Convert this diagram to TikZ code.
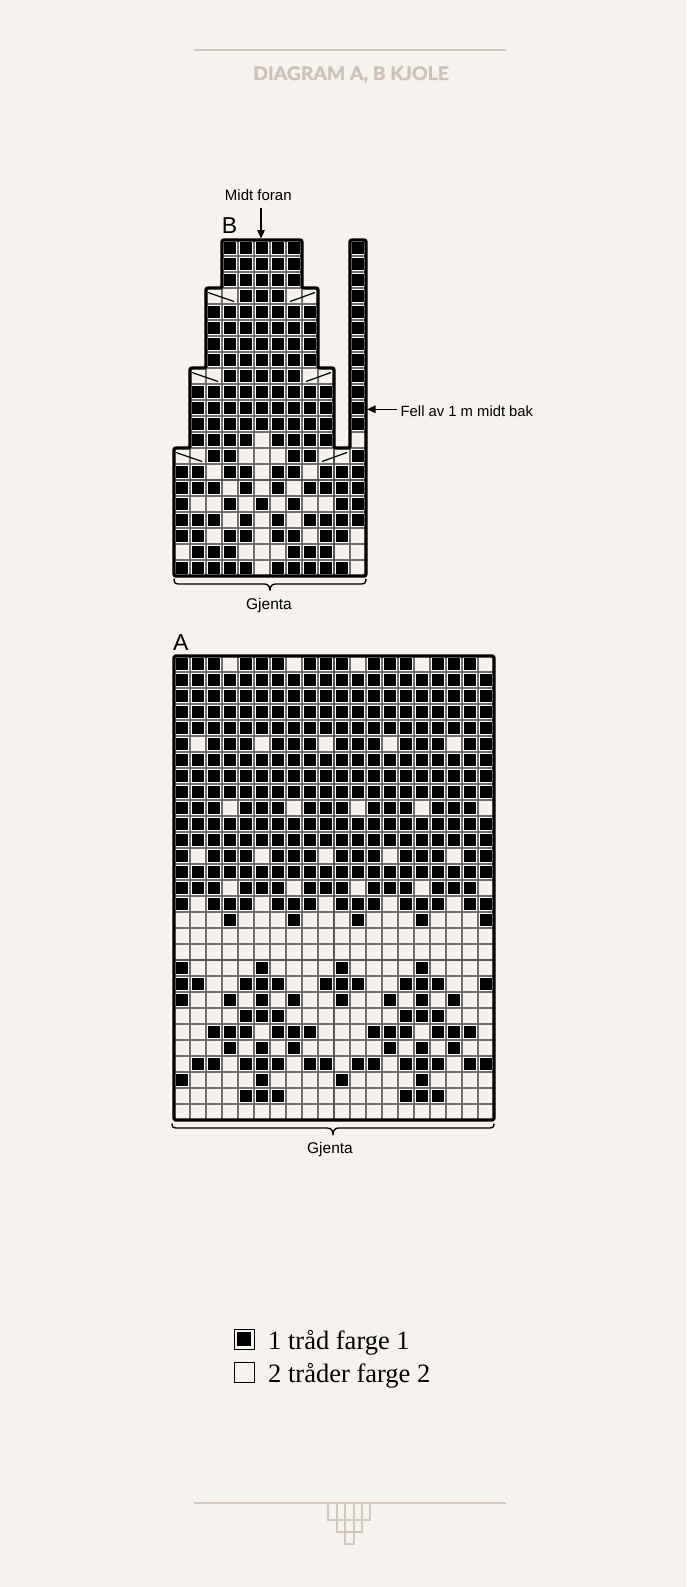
\documentclass[tikz,border=0pt]{standalone}
\usepackage{fontspec}
\setmainfont{Liberation Serif}
\newfontfamily\lsans{Liberation Sans}
\newfontfamily\hdrfont{Lato}[BoldFeatures={FakeBold=2}]
\usetikzlibrary{arrows.meta}
\definecolor{bg}{HTML}{F6F2EE}
\definecolor{taupe}{HTML}{D3C7BD}
\definecolor{htext}{HTML}{CEC2B8}
\definecolor{gridc}{HTML}{707070}
\definecolor{divc}{HTML}{555555}
\def\kcell#1#2{\fill[white] ({#1+1},{#2+1}) rectangle ++(14,14);\fill[black] ({#1+2.3},{#2+2.3}) rectangle ++(11.4,11.4);}
\begin{document}
\begin{tikzpicture}[x=1pt,y=-1pt,
  gl/.style={draw=gridc,line width=1.1pt},
  divl/.style={draw=divc,line width=1.7pt},
  outl/.style={draw=black,line width=3.2pt,line join=round,rounded corners=1.5pt},
  diagl/.style={draw=black,line width=1.2pt},
  arr/.style={draw=black,line width=1.3pt,-{Triangle[length=8.5pt,width=7.5pt]}},
  lbl/.style={font=\lsans\fontsize{15}{18}\selectfont,inner sep=0pt},
  bigl/.style={font=\lsans\fontsize{23}{26}\selectfont,inner sep=0pt},
  legt/.style={font=\fontsize{26.5}{30}\selectfont,inner sep=0pt,anchor=base west},
  brace/.style={draw=black,line width=1.3pt,line join=round},
  orn/.style={draw=taupe,line width=2pt}]
\useasboundingbox (0,0) rectangle (686,1587);
\fill[bg] (0,0) rectangle (686,1587);
% header
\draw[taupe,line width=2.3pt] (194,50.3) -- (506,50.3);
\node[anchor=base,inner sep=0pt,text=htext,font=\hdrfont\bfseries\fontsize{18.5}{20}\selectfont,xscale=1.05] (hdr) at (351,80) {DIAGRAM A, B KJOLE};
% ================= Diagram B =================
\foreach \r/\a/\b in {1/4/8,2/4/8,3/4/8,4/3/9,5/3/9,6/3/9,7/3/9,8/3/9,9/2/10,10/2/10,11/2/10,12/2/10,13/2/10,14/1/12,15/1/12,16/1/12,17/1/12,18/1/12,19/1/12,20/1/12,21/1/12}
 { \foreach \c in {\a,...,\b} { \draw[gl] ({174+16*(\c-1)},{240+16*(\r-1)}) rectangle ++(16,16); } }
\foreach \r in {1,...,13} { \draw[gl] (350,{240+16*(\r-1)}) rectangle ++(16,16); }
\foreach \r/\cl in {1/{4,5,6,7,8,12},2/{4,5,6,7,8,12},3/{4,5,6,7,8,12},4/{5,6,7,12},
 5/{3,4,5,6,7,8,9,12},6/{3,4,5,6,7,8,9,12},7/{3,4,5,6,7,8,9,12},8/{3,4,5,6,7,8,9,12},
 9/{4,5,6,7,8,12},10/{2,3,4,5,6,7,8,9,10,12},11/{2,3,4,5,6,7,8,9,10,12},12/{2,3,4,5,6,7,8,9,10,12},
 13/{2,3,4,5,7,8,9,10},14/{3,4,8,9,12},15/{1,2,4,5,7,8,10,11,12},16/{1,2,3,5,7,9,10,11,12},
 17/{1,4,6,8,11,12},18/{1,2,3,5,7,9,10,11,12},19/{1,2,4,5,7,8,10,11},20/{2,3,4,8,9,10},
 21/{1,2,3,4,5,7,8,9,10,11}}
 { \foreach \c in \cl { \kcell{174+16*(\c-1)}{240+16*(\r-1)} } }
\draw[divl] (334,448) -- (334,576);
\draw[divl] (174,480) -- (366,480);
% decrease marks
\draw[diagl] (208,292.5) -- (234,301.5);
\draw[diagl] (290,301.5) -- (315,292.5);
\draw[diagl] (192,372.5) -- (218,381.5);
\draw[diagl] (306,381.5) -- (331,372.5);
\draw[diagl] (176,452.5) -- (202,461.5);
\draw[diagl] (322,461.5) -- (347,452.5);
\draw[outl] (222,240) -- (302,240) -- (302,288) -- (318,288) -- (318,368) -- (334,368) -- (334,448) -- (350,448) -- (350,240) -- (366,240) -- (366,576) -- (174,576) -- (174,448) -- (190,448) -- (190,368) -- (206,368) -- (206,288) -- (222,288) -- cycle;
\node[bigl,anchor=base west] (labB) at (221.6,233.3) {B};
\node[lbl,anchor=base] (midt) at (258.3,200) {Midt foran};
\coordinate (midtS) at (261,208.3);
\coordinate (midtT) at (261,238.5);
\draw[arr] (midtS) -- (midtT);
\node[lbl,anchor=base west,font=\lsans\fontsize{14.8}{18}\selectfont] (fell) at (400.5,416.7) {Fell av 1 m midt bak};
\coordinate (fellS) at (397.3,409.3);
\coordinate (fellT) at (367,409.3);
\draw[arr] (fellS) -- (fellT);
\draw[brace] (174,578.5) .. controls (174,582.5) and (175,584) .. (179,584) -- (264,584) .. controls (268,584) and (270,586) .. (270,590.5) .. controls (270,586) and (272,584) .. (276,584) -- (361,584) .. controls (365,584) and (366,582.5) .. (366,578.5);
\node[lbl,anchor=base,font=\lsans\fontsize{15.5}{18}\selectfont] (gjB) at (269,609.5) {Gjenta};
% ================= Diagram A =================
\foreach \i in {0,...,20} { \draw[gl] ({174+16*\i},656) -- ({174+16*\i},1120); }
\foreach \i in {0,...,29} { \draw[gl] (174,{656+16*\i}) -- (494,{656+16*\i}); }
\foreach \r/\cl in {
 1/{1,2,3,5,6,7,9,10,11,13,14,15,17,18,19},
 2/{1,...,20},3/{1,...,20},4/{1,...,20},5/{1,...,20},
 6/{1,3,4,5,7,8,9,11,12,13,15,16,17,19,20},
 7/{1,...,20},8/{1,...,20},9/{1,...,20},
 10/{1,2,3,5,6,7,9,10,11,13,14,15,17,18,19},
 11/{1,...,20},12/{1,...,20},
 13/{1,3,4,5,7,8,9,11,12,13,15,16,17,19,20},
 14/{1,...,20},
 15/{1,2,3,5,6,7,9,10,11,13,14,15,17,18,19},
 16/{1,3,4,5,7,8,9,11,12,13,15,16,17,19,20},
 17/{4,8,12,16,20},
 20/{1,6,11,16},
 21/{1,2,5,6,7,10,11,12,15,16,17,20},
 22/{1,4,6,8,11,14,16,18},
 23/{5,6,7,15,16,17},
 24/{3,4,5,7,8,9,13,14,15,17,18,19},
 25/{4,6,8,14,16,18},
 26/{2,3,5,6,7,9,10,12,13,15,16,17,19,20},
 27/{1,6,11,16},
 28/{5,6,7,15,16,17}}
 { \foreach \c in \cl { \kcell{174+16*(\c-1)}{656+16*(\r-1)} } }
\draw[divl] (334,656) -- (334,1120);
\draw[divl] (174,960) -- (494,960);
\draw[outl] (174,656) rectangle (494,1120);
\node[bigl,anchor=base west] (labA) at (173,650) {A};
\draw[brace] (172,1123.5) .. controls (172,1127) and (173,1128) .. (177,1128) -- (327,1128) .. controls (331,1128) and (333,1130) .. (333,1135) .. controls (333,1130) and (335,1128) .. (339,1128) -- (489,1128) .. controls (493,1128) and (494,1127) .. (494,1123.5);
\node[lbl,anchor=base,font=\lsans\fontsize{15.5}{18}\selectfont] (gjA) at (330,1153.7) {Gjenta};
% ================= Legend =================
\draw[line width=1pt] (234,1329) rectangle (254,1349);
\fill[black] (237.4,1332.4) rectangle (250.6,1345.6);
\node[legt] (leg1) at (268,1349.3) {1 tråd farge 1};
\draw[line width=0.9pt] (234,1362.5) rectangle (254,1382.5);
\node[legt] (leg2) at (268,1382.5) {2 tråder farge 2};
% ================= Footer =================
\draw[taupe,line width=2.3pt] (194,1503.3) -- (506,1503.3);
\draw[orn] (328.3,1503.3) rectangle (370.3,1519.7);
\foreach \xx in {336.7,345.1,353.5,361.9} { \draw[orn] (\xx,1503.3) -- (\xx,1519.7); }
\draw[orn] (336.7,1519.7) rectangle (361.9,1531.7);
\foreach \xx in {345.1,353.5} { \draw[orn] (\xx,1519.7) -- (\xx,1531.7); }
\draw[orn] (345.1,1531.7) rectangle (353.5,1543.7);
\end{tikzpicture}
\end{document}
